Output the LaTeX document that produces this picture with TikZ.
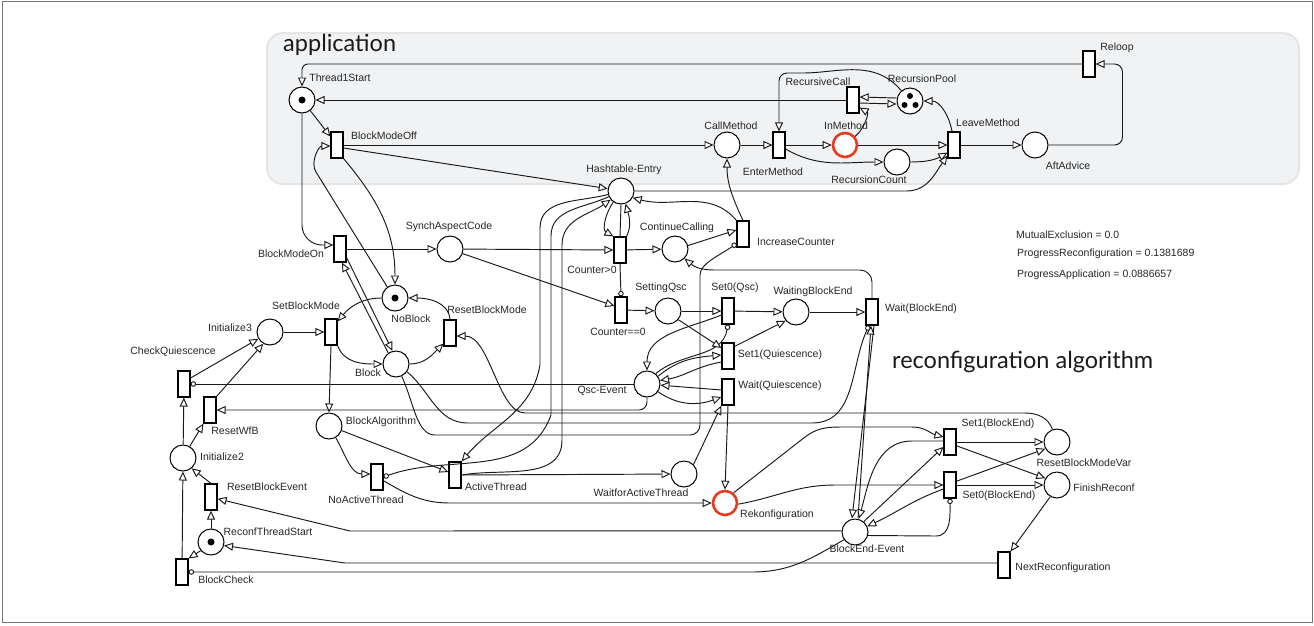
\documentclass[tikz,border=0pt]{standalone}
\usepackage{fontspec}
\setmainfont{Liberation Sans}
\newfontfamily\titlefont{Lato}
\usetikzlibrary{arrows.meta}
\definecolor{appgray}{RGB}{241,242,244}
\definecolor{rekonred}{RGB}{232,58,28}

\tikzset{
  pl/.style={circle, draw, fill=white, line width=1pt, minimum size=26pt, inner sep=0pt},
  tr/.style={rectangle, draw, fill=white, line width=1.2pt, minimum width=12pt, minimum height=26pt, inner sep=0pt},
  hot/.style={draw=rekonred, line width=2.6pt, minimum size=24pt},
  lab/.style={font=\fontsize{10.5}{12}\selectfont, inner sep=0pt, text=black!85},
  lbl/.style 2 args={label={[lab,shift={#1}]center:#2}},
  ln/.style={draw=black!90, line width=0.95pt},
  arc/.style={ln, -{Triangle[fill=white,length=9pt,width=8pt]}},
  inh/.style={ln, -{Circle[fill=white,length=5.5pt]}},
  ttl/.style={font=\titlefont\fontsize{23.5}{26}\selectfont, anchor=west, inner sep=0pt, text=black!90}
}

\begin{document}
\begin{tikzpicture}[x=1pt, y=-1pt]
\useasboundingbox (0,0) rectangle (1314,625);
\draw[black!55, line width=1pt] (2,1) rectangle (1312,622);

% aplicacion
\draw[draw=black!10, line width=2pt, fill=appgray, rounded corners=16pt] (267,33) rectangle (1299,184);
\node[ttl] (apptitle) at (283,45) {application};
\node[ttl] (rectitle) at (892,362) {reconfiguration algorithm};

% lugares
\node[pl, lbl={(38,-22)}{Thread1Start}] (t1) at (302,100) {};
\node[pl, lbl={(4,-19)}{CallMethod}] (callm) at (727,145) {};
\node[pl, hot, lbl={(1,-19)}{InMethod}] (inm) at (845,145) {};
\node[pl, lbl={(-28,18)}{RecursionCount}] (rcount) at (897,162) {};
\node[pl, lbl={(12,-22)}{RecursionPool}] (rpool) at (910,101) {};
\node[pl, lbl={(33,21)}{AftAdvice}] (aft) at (1035,145) {};
\node[pl, lbl={(3,-21)}{Hashtable-Entry}] (hash) at (621,191) {};
\node[pl, lbl={(2,-21)}{ContinueCalling}] (cont) at (675,249) {};
\node[pl, lbl={(-1,-22)}{SynchAspectCode}] (synch) at (450,249) {};
\node[pl, lbl={(-7,-23)}{SettingQsc}] (setq) at (668,311) {};
\node[pl, lbl={(17,-20)}{WaitingBlockEnd}] (wbe) at (796,312) {};
\node[pl, lbl={(-45,7)}{Qsc-Event}] (qsc) at (647,384) {};
\node[pl, lbl={(16,21)}{NoBlock}] (nob) at (395,298) {};
\node[pl, lbl={(-40,-4)}{Initialize3}] (init3) at (270,332) {};
\node[pl, lbl={(-28,9)}{Block}] (block) at (396,364) {};
\node[pl, lbl={(52,-4)}{BlockAlgorithm}] (balg) at (329,426) {};
\node[pl, lbl={(39,-1)}{Initialize2}] (init2) at (183,458) {};
\node[pl, lbl={(57,-10)}{ReconfThreadStart}] (rts) at (211,542) {};
\node[pl, lbl={(-43,19)}{WaitforActiveThread}] (wfat) at (684,474) {};
\node[pl, hot, lbl={(52,12)}{Rekonfiguration}] (rekon) at (725,503) {};
\node[pl, lbl={(12,17)}{BlockEnd-Event}] (be) at (855,532) {};
\node[pl, lbl={(27,21)}{ResetBlockModeVar}] (rbmv) at (1057,442) {};
\node[pl, lbl={(47,3)}{FinishReconf}] (fin) at (1057,485) {};

% marcas
\fill (t1.center) circle (3.5pt);
\fill (nob.center) circle (3.5pt);
\fill (rts.center) circle (3.5pt);
\fill ([shift={(0,-5)}]rpool.center) circle (3pt);
\fill ([shift={(-5.5,4)}]rpool.center) circle (3pt);
\fill ([shift={(5.5,4)}]rpool.center) circle (3pt);

% transiciones
\node[tr, lbl={(47,-9)}{BlockModeOff}] (bmoff) at (337,145) {};
\node[tr, lbl={(-6,27)}{EnterMethod}] (enterm) at (779,145) {};
\node[tr, lbl={(-35,-18)}{RecursiveCall}] (rcall) at (853,100) {};
\node[tr, lbl={(34,-22)}{LeaveMethod}] (leavem) at (954,145) {};
\node[tr, lbl={(28,-16)}{Reloop}] (reloop) at (1089,64) {};
\node[tr, lbl={(-28,20)}{Counter>0}] (c0) at (620,250) {};
\node[tr, lbl={(53,8)}{IncreaseCounter}] (inc) at (743,234) {};
\node[tr, lbl={(-49,5)}{BlockModeOn}] (bmon) at (340,249) {};
\node[tr, lbl={(-3,22)}{Counter==0}] (c00) at (621,310) {};
\node[tr, lbl={(7,-23)}{Set0(Qsc)}] (set0q) at (728,311) {};
\node[tr, lbl={(49,-3)}{Wait(BlockEnd)}] (waitbe) at (872,312) {};
\node[tr, lbl={(52,-1)}{Set1(Quiescence)}] (set1q) at (728,356) {};
\node[tr, lbl={(52,-6)}{Wait(Quiescence)}] (waitq) at (728,392) {};
\node[tr, lbl={(-25,-26)}{SetBlockMode}] (sbm) at (331,332) {};
\node[tr, lbl={(37,-23)}{ResetBlockMode}] (rbm) at (450,333) {};
\node[tr, lbl={(-11,-32)}{CheckQuiescence}] (checkq) at (184,384) {};
\node[tr, lbl={(25,21)}{ResetWfB}] (resetwfb) at (210,410) {};
\node[tr, lbl={(56,-10)}{ResetBlockEvent}] (rbe) at (211,497) {};
\node[tr, lbl={(44,8)}{BlockCheck}] (bcheck) at (182,572) {};
\node[tr, lbl={(-11,23)}{NoActiveThread}] (noact) at (377,477) {};
\node[tr, lbl={(41,12)}{ActiveThread}] (actt) at (455,475) {};
\node[tr, lbl={(48,-18)}{Set1(BlockEnd)}] (s1be) at (950,442) {};
\node[tr, lbl={(49,11)}{Set0(BlockEnd)}] (s0be) at (950,485) {};
\node[tr, lbl={(59,3)}{NextReconfiguration}] (nextr) at (1004,565) {};

% arcos aplicacion
\draw[arc] (t1) -- (bmoff);
\draw[arc] (bmoff.east) -- (callm);
\draw[arc] ([yshift=-3pt]bmoff.east) -- (hash.170);
\draw[arc] (callm) -- (enterm);
\draw[arc] (enterm) -- (inm);
\draw[arc] ([yshift=-4pt]enterm.east) to[out=-30,in=180] (rcount.west);
\draw[arc] (inm.40) to[out=40,in=-30] ([yshift=6pt]rcall.south east);
\draw[arc] (inm) -- (leavem);
\draw[arc] (rcount.east) to[out=0,in=210] ([yshift=6pt]leavem.south west);
\draw[arc] (hash.east) -- ++(272,0) to[out=0,in=235] ([yshift=3pt]leavem.south west);
\draw[arc] (rcall.west) -- (t1.east);
\draw[arc] ([yshift=3pt]rpool.west) -- ([yshift=3pt]rcall.east);
\draw[arc] ([yshift=-3pt]rcall.east) -- ([yshift=-3pt]rpool.west);
\draw[arc, rounded corners=8pt] (rpool.130) to[out=130,in=0] (795,73) -| (enterm.north);
\draw[arc] ([xshift=-2pt]leavem.north) to[out=100,in=0] (rpool.east);
\draw[arc] (leavem) -- (aft);
\draw[arc, rounded corners=8pt] (aft.east) -- ++(74,0) |- (reloop.east);
\draw[arc, rounded corners=6pt] (reloop.west) -| (t1.north);

% arcos centro
\draw[arc] (inc.north) to[out=115,in=-90] (callm.south);
\draw[arc] (inc.north west) to[out=130,in=-15] (hash.-30);
\draw[arc] (cont.15) -- ([yshift=4pt]inc.west);
\draw[arc] (c0) -- (cont);
\draw[arc] (hash.235) to[out=235,in=150] (c0.north west);
\draw[arc] (c0.north east) to[out=65,in=-75] (hash.-70);
\draw[ln] (hash.south) -- (c0.north);
\draw[inh] (c0.south) -- (c00.north);
\draw[arc] (synch) -- (c0);
\draw[arc] (synch.-20) -- ([yshift=4pt]c00.west);
\draw[arc] (bmon) -- (synch);
\draw[arc, rounded corners=20pt] (t1.south) |- ([yshift=4pt]bmon.west);
\draw[arc] (bmoff.south east) to[out=-50,in=90] (nob.north);
\draw[arc] (nob.125) -- (316,172) to[out=122,in=180] ([yshift=-1pt]bmoff.west);
\draw[arc] ([yshift=5pt]bmon.south east) -- (block.105);
\draw[arc] (block.125) -- ([xshift=2pt]bmon.south);
\draw[arc] (nob.west) to[out=180,in=50] ([yshift=-3pt]sbm.north east);
\draw[arc] (rbm.north) to[out=95,in=0] (nob.east);
\draw[arc] (sbm.south east) to[out=-70,in=180] (block.west);
\draw[arc] (block.east) to[out=0,in=225] ([yshift=3pt]rbm.south west);
\draw[arc] (init3) -- (sbm);
\draw[arc] (sbm.south) -- (balg.north);

% izquierda
\draw[arc] ([yshift=6pt]checkq.east) -- (init3.210);
\draw[arc] (resetwfb.north east) -- (init3.240);
\draw[arc] (init2) -- (checkq);
\draw[arc] (init2.60) -- (resetwfb.south west);
\draw[arc] (rbe.north) -- (init2.-50);
\draw[arc] (bcheck) -- (init2);
\draw[arc] (rts) -- (rbe);
\draw[arc] (rts.220) -- (bcheck.north east);

% algoritmo
\draw[arc] (balg.-60) to[out=-60,in=180] ([yshift=3pt]noact.west);
\draw[arc] (balg.-20) -- ([yshift=3pt]actt.west);
\draw[arc] (actt) -- (wfat);
\draw[arc] (noact.-30) to[out=-30,in=180] (450,503) -- (rekon.west);
\draw[arc] (wfat.north east) -- (waitq.south west);
\draw[arc] (waitq.south) -- (rekon.north);
\draw[arc] ([yshift=2pt]waitq.west) -- (qsc.-5);
\draw[arc] (qsc.-35) to[out=-35,in=200] ([yshift=-5pt]waitq.west);
\draw[arc] (qsc.35) to[out=40,in=185] ([yshift=1pt]set1q.west);
\draw[arc] ([yshift=-6pt]set1q.west) to[out=190,in=10] (qsc.15);
\draw[arc] ([yshift=-4pt]set0q.west) to[out=202,in=90] (qsc.north);
\draw[inh] (qsc.50) to[out=40,in=-100] (set0q.south);
\draw[arc] (c00) -- (setq);
\draw[arc] (setq) -- (set0q);
\draw[arc] (setq.-40) -- ([yshift=8pt]set1q.west);
\draw[arc] (set0q) -- (wbe);
\draw[arc] ([yshift=-4pt]set1q.north east) -- (wbe.220);
\draw[arc] (wbe) -- (waitbe);
\draw[arc, rounded corners=12pt] (waitbe.north) |- (730,270) to[out=180,in=-40] (cont.-45);

% hashtable y hilos
\draw[arc] (hash.195) to[out=195,in=90] (540,228) -- (540,365) to[out=-100,in=50] (actt.north east);
\draw[inh] (hash.205) to[out=205,in=90] (551,236) -- (551,415) to[out=-110,in=20] (noact.east);
\draw[arc] (actt.east) to[out=10,in=-90] (562,440) -- (562,245) to[out=90,in=215] (hash.220);

% bloqueo
\draw[inh, rounded corners=10pt] (block.-65) to[out=-65,in=180] (445,435) -| (700,285) to[out=90,in=215] ([yshift=4pt]inc.south west);
\draw[inh] (block.-35) to[out=-40,in=180] (468,423) -- (812,423) to[out=0,in=-115] ([xshift=-3pt]waitbe.south);
\draw[inh] (qsc.west) -- (checkq.east);
\draw[arc, rounded corners=8pt] (qsc.south) |- (resetwfb.east);
\draw[arc] (rbmv.110) to[out=110,in=0] (1025,413) -- (525,413) .. controls (498,413) and (490,336) .. ([yshift=-3pt]rbm.east);

% fin
\draw[arc] ([xshift=2pt]waitbe.south) -- ([xshift=-3pt]be.north);
\draw[arc] ([xshift=3pt]be.north) -- ([xshift=-1pt]waitbe.south);
\draw[arc] (rekon.50) -- (805,437) to[out=37,in=180] (840,427) -- (912,427) to[out=0,in=165] ([yshift=5pt]s1be.west);
\draw[arc] (rekon.-5) to[out=10,in=180] (835,485) -- (s0be.west);
\draw[arc] (be.50) -- ([yshift=-5pt]s1be.west);
\draw[arc] ([yshift=1pt]s1be.west) -- (912,441) to[out=180,in=75] ([xshift=4pt]be.north);
\draw[arc] ([yshift=-4pt]s0be.west) to[out=200,in=25] (be.25);
\draw[inh] (be.-15) -- (936,536) to[out=0,in=-90] (s0be.south);
\draw[arc] (s1be) -- (rbmv);
\draw[arc] (s1be.-30) -- (fin.150);
\draw[arc] (s0be.30) -- (rbmv.210);
\draw[arc] (s0be) -- (fin);
\draw[arc] (fin.240) -- (nextr.north east);
\draw[arc] ([yshift=2pt]nextr.west) -- (345,563) -- (rts.-15);
\draw[inh] (be.215) to[out=210,in=0] (752,572) -- (bcheck.east);
\draw[arc] (be.175) -- (350,531) -- (rbe.-15);

% valores
\node[lab, anchor=west] (mutex) at (1016,235) {MutualExclusion = 0.0};
\node[lab, anchor=west] (progrec) at (1017,254) {ProgressReconfiguration = 0.1381689};
\node[lab, anchor=west] (progapp) at (1017,275) {ProgressApplication = 0.0886657};
\end{tikzpicture}
\end{document}
